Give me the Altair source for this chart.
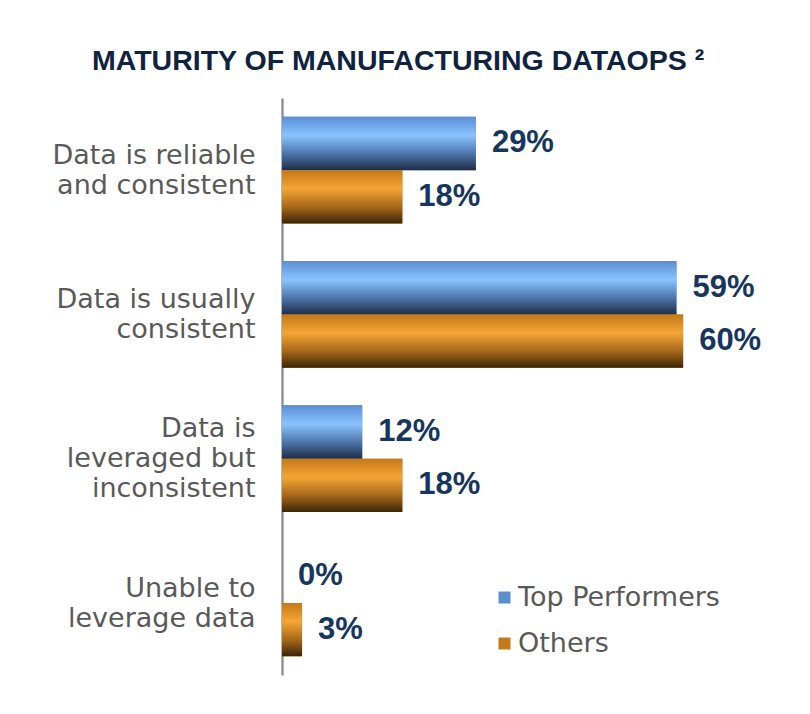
import altair as alt
import pandas as pd

categories = [
    "Data is reliable|and consistent",
    "Data is usually|consistent",
    "Data is|leveraged but|inconsistent",
    "Unable to|leverage data",
]
series = ["Top Performers", "Others"]
top_performers = [29, 59, 12, 0]
others = [18, 60, 18, 3]

rows = []
for c, v in zip(categories, top_performers):
    rows.append({"Category": c, "Series": "Top Performers", "Value": v})
for c, v in zip(categories, others):
    rows.append({"Category": c, "Series": "Others", "Value": v})
df = pd.DataFrame(rows)
df["Label"] = df["Value"].astype(str) + "%"

blue_grad = alt.LinearGradient(
    gradient="linear", x1=0, y1=0, x2=0, y2=1,
    stops=[
        alt.GradientStop(offset=0, color="#5A8ED2"),
        alt.GradientStop(offset=0.35, color="#8AC2FF"),
        alt.GradientStop(offset=0.7, color="#4B74A8"),
        alt.GradientStop(offset=1, color="#1F2D47"),
    ],
)
orange_grad = alt.LinearGradient(
    gradient="linear", x1=0, y1=0, x2=0, y2=1,
    stops=[
        alt.GradientStop(offset=0, color="#C47818"),
        alt.GradientStop(offset=0.35, color="#F4A634"),
        alt.GradientStop(offset=0.7, color="#A5661A"),
        alt.GradientStop(offset=1, color="#3A2508"),
    ],
)

y_enc = alt.Y(
    "Category:N",
    sort=categories,
    scale=alt.Scale(paddingInner=0.261, paddingOuter=0.1305),
    axis=alt.Axis(
        title=None,
        ticks=False,
        domain=True,
        domainColor="#8C8C8C",
        domainWidth=2.3,
        labelExpr="split(datum.label, '|')",
        labelFont="DejaVu Sans",
        labelFontSize=27,
        labelColor="#595959",
        labelLineHeight=30,
        labelPadding=27,
        labelAlign="right",
        labelBaseline="middle",
        labelLimit=300,
        labelOffset={
            "condition": {
                "test": "length(split(datum.value, '|')) == 3",
                "value": -30,
            },
            "value": -14,
        },
    ),
)
yoff = alt.YOffset("Series:N", sort=series)
x_enc = alt.X("Value:Q", scale=alt.Scale(domain=[0, 70]), axis=None)

base = alt.Chart(df)

flat = base.mark_bar().encode(
    x=x_enc,
    y=y_enc,
    yOffset=yoff,
    color=alt.Color(
        "Series:N",
        sort=series,
        scale=alt.Scale(domain=series, range=["#5B8FD0", "#C47A1A"]),
        legend=alt.Legend(
            title=None,
            orient="none",
            legendX=209,
            legendY=486,
            symbolType="square",
            symbolSize=144,
            symbolStrokeWidth=0,
            labelFont="DejaVu Sans",
            labelFontSize=27,
            labelColor="#595959",
            labelOffset=0,
            labelLimit=400,
            rowPadding=18,
            padding=0,
        ),
    ),
)

blue = base.transform_filter(alt.datum.Series == "Top Performers").mark_bar(
    color=blue_grad
).encode(x=x_enc, y=y_enc, yOffset=yoff)

orange = base.transform_filter(alt.datum.Series == "Others").mark_bar(
    color=orange_grad
).encode(x=x_enc, y=y_enc, yOffset=yoff)

labels = base.mark_text(
    align="left",
    baseline="middle",
    dx=16,
    font="Liberation Sans",
    fontWeight="bold",
    fontSize=31,
    color="#17365D",
).encode(x=x_enc, y=y_enc, yOffset=yoff, text="Label:N")

chart = (
    alt.layer(flat, blue, orange, labels)
    .properties(
        width=468,
        height=577,
        autosize=alt.AutoSizeParams(type="none"),
        padding={"left": 274, "top": 90, "right": 52, "bottom": 30},
        background="white",
        title=alt.TitleParams(
            "MATURITY OF MANUFACTURING DATAOPS \u00b2",
            anchor="start",
            frame="group",
            dx=-190,
            dy=3,
            font="Liberation Sans",
            fontWeight="bold",
            fontSize=28.5,
            color="#0F2340",
            offset=26,
        ),
    )
    .configure_view(strokeWidth=0, stroke="transparent")
)

chart.save("out.html", embed_options={"renderer": "svg", "actions": False})
